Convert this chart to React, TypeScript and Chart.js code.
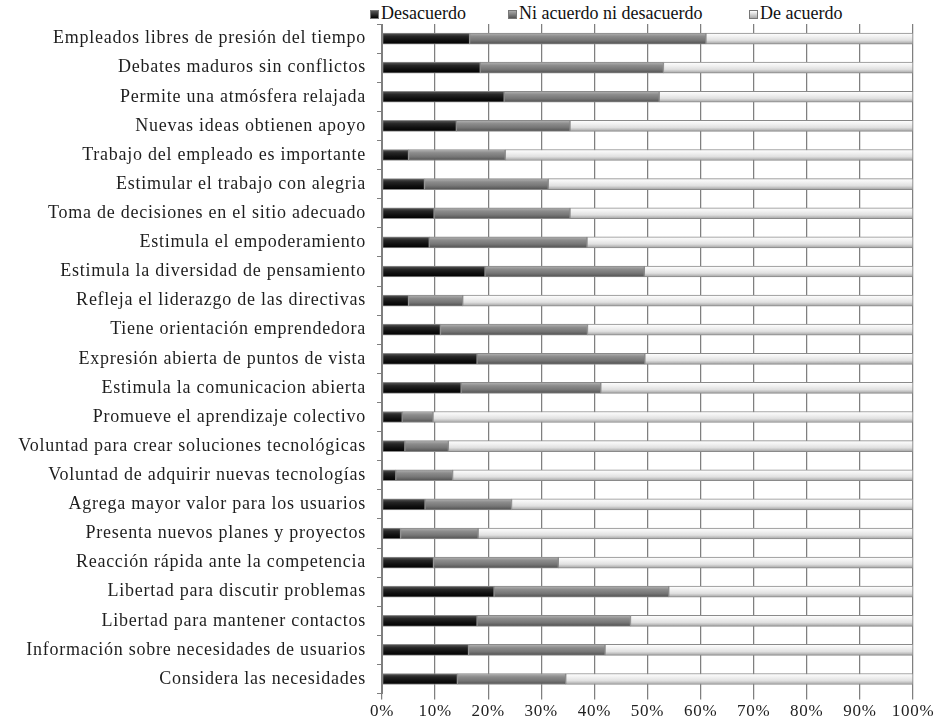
import React, { useEffect, useRef } from "react";
import { Chart, registerables } from "chart.js";

Chart.register(...registerables);

const categories = [
  "Empleados libres de presión del tiempo",
  "Debates maduros sin conflictos",
  "Permite una atmósfera relajada",
  "Nuevas ideas obtienen apoyo",
  "Trabajo del empleado es importante",
  "Estimular el trabajo con alegria",
  "Toma de decisiones en el sitio adecuado",
  "Estimula el empoderamiento",
  "Estimula la diversidad de pensamiento",
  "Refleja el liderazgo de las directivas",
  "Tiene orientación emprendedora",
  "Expresión abierta de puntos de vista",
  "Estimula la comunicacion abierta",
  "Promueve el aprendizaje colectivo",
  "Voluntad para crear soluciones tecnológicas",
  "Voluntad de adquirir nuevas tecnologías",
  "Agrega mayor valor para los usuarios",
  "Presenta nuevos planes y proyectos",
  "Reacción rápida ante la competencia",
  "Libertad para discutir problemas",
  "Libertad para mantener contactos",
  "Información sobre necesidades de usuarios",
  "Considera las necesidades",
];

const seriesNames = ["Desacuerdo", "Ni acuerdo ni desacuerdo", "De acuerdo"];

const desacuerdo = [16.5, 18.5, 23, 14, 5, 8, 9.8, 8.9, 19.4, 5, 11, 17.9, 14.9, 3.8, 4.3, 2.6, 8.1, 3.5, 9.7, 21.1, 17.9, 16.3, 14.2];
const niAcuerdo = [44.5, 34.5, 29.2, 21.4, 18.2, 23.3, 25.6, 29.7, 30, 10.2, 27.7, 31.6, 26.3, 5.8, 8.2, 10.7, 16.3, 14.6, 23.5, 32.9, 28.9, 25.7, 20.4];
const deAcuerdo = [39, 47, 47.8, 64.6, 76.8, 68.7, 64.6, 61.4, 50.6, 84.8, 61.3, 50.5, 58.8, 90.4, 87.5, 86.7, 75.6, 81.9, 66.8, 46, 53.2, 58, 65.4];

const xTickStep = 10;

const FONT = '"Liberation Serif", "Times New Roman", serif';
const BAR_H = 11;
const GRID = "#7f7f7f";

// gradient stops: top -> bottom
const gradStops: string[][] = [
  ["#5a5a5a", "#262626", "#101010", "#000000"],
  ["#b4b4b4", "#8c8c8c", "#767676", "#505050"],
  ["#ffffff", "#f2f2f2", "#e0e0e0", "#a0a0a0"],
];
const fallback = ["#1a1a1a", "#808080", "#e6e6e6"];

function makeBg(si: number) {
  return (ctx: any) => {
    const chart = ctx.chart;
    const y = chart.scales && chart.scales.y;
    if (!y || ctx.dataIndex === undefined || !chart.chartArea) return fallback[si];
    const c = y.getPixelForValue(ctx.dataIndex);
    if (!isFinite(c)) return fallback[si];
    const g = chart.ctx.createLinearGradient(0, c - BAR_H / 2, 0, c + BAR_H / 2);
    const s = gradStops[si];
    g.addColorStop(0, s[0]);
    g.addColorStop(0.3, s[1]);
    g.addColorStop(0.65, s[2]);
    g.addColorStop(1, s[3]);
    return g;
  };
}

const spacingPlugin = {
  id: "spacing",
  beforeDraw(chart: any) {
    chart.ctx.letterSpacing = "0.75px";
  },
  afterDraw(chart: any) {
    chart.ctx.letterSpacing = "0px";
  },
};

const legendBg = [
  "linear-gradient(#555, #000)",
  "linear-gradient(#aaa, #555)",
  "linear-gradient(#fff, #aaa)",
];
const legendLeft = [370, 508, 749];

export default function App() {
  const ref = useRef<HTMLCanvasElement | null>(null);

  useEffect(() => {
    if (!ref.current) return;
    const values = [desacuerdo, niAcuerdo, deAcuerdo];
    const chart = new Chart(ref.current, {
      type: "bar",
      data: {
        labels: categories,
        datasets: seriesNames.map((name, si) => ({
          label: name,
          data: values[si],
          backgroundColor: makeBg(si),
          borderColor: "#8a8a8a",
          borderWidth: 1,
          borderSkipped: false,
          barThickness: BAR_H,
        })),
      },
      plugins: [spacingPlugin],
      options: {
        indexAxis: "y",
        animation: false,
        responsive: true,
        maintainAspectRatio: false,
        layout: { padding: { top: 24, right: 30, left: 0, bottom: 1 } },
        plugins: {
          legend: { display: false },
          tooltip: { enabled: false },
        },
        scales: {
          x: {
            stacked: true,
            min: 0,
            max: 100,
            ticks: {
              stepSize: xTickStep,
              callback: (v: any) => v + "%",
              font: { family: FONT, size: 17 },
              color: "#222",
              padding: 2,
              maxRotation: 0,
            },
            grid: { color: GRID, lineWidth: 1.25, tickLength: 6, drawOnChartArea: true },
            border: { display: false },
          },
          y: {
            stacked: true,
            afterFit: (scale: any) => {
              scale.width = 382;
            },
            ticks: {
              font: { family: FONT, size: 18 },
              color: "#1e1e1e",
              padding: 11,
              autoSkip: false,
            },
            grid: {
              drawOnChartArea: false,
              offset: true,
              tickLength: 5,
              color: GRID,
            },
            border: { display: true, color: GRID },
          },
        },
      },
    });
    return () => chart.destroy();
  }, []);

  return (
    <div style={{ position: "fixed", left: 0, top: 0, width: 943, height: 725, background: "#fff" }}>
      {seriesNames.map((name, i) => (
        <div
          key={name}
          style={{
            position: "absolute",
            left: legendLeft[i],
            top: 3,
            fontFamily: FONT,
            fontSize: 18,
            color: "#111",
            whiteSpace: "nowrap",
            display: "flex",
            alignItems: "center",
          }}
        >
          <span
            style={{
              display: "inline-block",
              width: 7,
              height: 7,
              marginRight: 2,
              marginTop: 2,
              background: legendBg[i],
              border: "1px solid #777",
            }}
          />
          <span>{name}</span>
        </div>
      ))}
      <canvas ref={ref} style={{ position: "absolute", left: 0, top: 0, width: 943, height: 725 }} />
    </div>
  );
}
